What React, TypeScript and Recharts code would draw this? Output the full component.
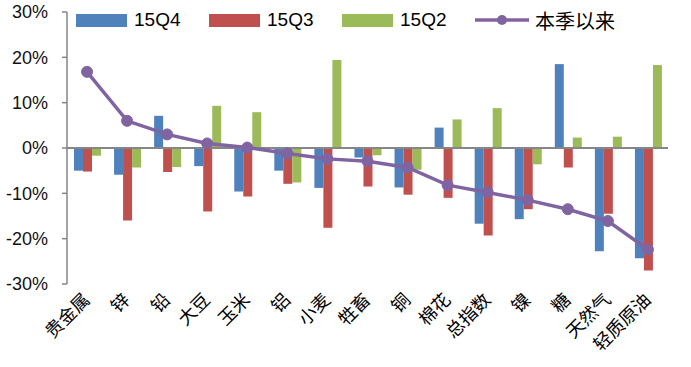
import { ComposedChart, Bar, Line, XAxis, YAxis, ReferenceLine } from 'recharts';

const categories = ['贵金属', '锌', '铅', '大豆', '玉米', '铝', '小麦', '牲畜', '铜', '棉花', '总指数', '镍', '糖', '天然气', '轻质原油'];
const q4 = [-5.0, -5.9, 7.1, -4.0, -9.6, -5.0, -8.8, -2.1, -8.7, 4.5, -16.7, -15.7, 18.5, -22.8, -24.3];
const q3 = [-5.2, -16.0, -5.3, -14.0, -10.7, -7.9, -17.6, -8.5, -10.3, -11.0, -19.3, -13.5, -4.3, -14.5, -27.0];
const q2 = [-1.7, -4.3, -4.2, 9.3, 7.9, -7.6, 19.4, -1.6, -4.8, 6.3, 8.8, -3.6, 2.3, 2.5, 18.3];
const sinceQ = [16.8, 6.0, 3.0, 1.0, 0.1, -1.2, -2.4, -2.9, -4.3, -8.2, -9.8, -11.5, -13.5, -16.1, -22.4];
const yTicks = [-30, -20, -10, 0, 10, 20, 30];

const BLUE = '#4F81BD';
const RED = '#C0504D';
const GREEN = '#9BBB59';
const PURPLE = '#8064A2';

const data = categories.map((c, i) => ({
  cat: c,
  q4: q4[i],
  q3: q3[i],
  q2: q2[i],
  since: sinceQ[i],
}));

const barSeries = [
  { key: 'q4', name: '15Q4', color: BLUE },
  { key: 'q3', name: '15Q3', color: RED },
  { key: 'q2', name: '15Q2', color: GREEN },
];

const CatTick = (props: any) => {
  const { x, payload } = props;
  const ax = x + 4;
  const ay = 301;
  return (
    <text
      x={ax}
      y={ay}
      textAnchor="end"
      transform={`rotate(-45 ${ax} ${ay})`}
      fontSize={18}
      fontFamily='"Noto Sans CJK SC", sans-serif'
      fill="#000"
    >
      {payload.value}
    </text>
  );
};

function ChartLegend() {
  return (
    <div
      style={{
        position: 'absolute',
        left: 76,
        top: 6,
        display: 'flex',
        alignItems: 'center',
        height: 28,
        fontFamily: '"Liberation Sans", Arial, sans-serif',
        fontSize: 19,
        color: '#000',
      }}
    >
      {barSeries.map((s) => (
        <div key={s.key} style={{ width: 133, display: 'flex', alignItems: 'center' }}>
          <span style={{ width: 51, height: 13, background: s.color, display: 'inline-block' }} />
          <span style={{ marginLeft: 7 }}>{s.name}</span>
        </div>
      ))}
      <div style={{ display: 'flex', alignItems: 'center' }}>
        <svg width={54} height={14}>
          <line x1={0} y1={7} x2={54} y2={7} stroke={PURPLE} strokeWidth={3.5} />
          <circle cx={27} cy={7} r={5} fill={PURPLE} />
        </svg>
        <span style={{ marginLeft: 6, fontFamily: '"Noto Sans CJK SC", sans-serif', fontSize: 20 }}>本季以来</span>
      </div>
    </div>
  );
}

export default function App() {
  return (
    <div style={{ position: 'relative', width: 691, height: 367, background: '#fff' }}>
      <style>{`body{margin:0}`}</style>
      <ComposedChart
        width={691}
        height={367}
        data={data}
        margin={{ top: 12, right: 23, bottom: 0, left: 0 }}
        barCategoryGap={7}
        barGap={0}
      >
        <XAxis
          dataKey="cat"
          height={83}
          axisLine={false}
          tickLine={false}
          interval={0}
          tick={<CatTick />}
        />
        <YAxis
          width={67}
          domain={[-30, 30]}
          ticks={yTicks}
          tickFormatter={(v: number) => `${v}%`}
          axisLine={{ stroke: '#868686', strokeWidth: 1.5 }}
          tickLine={{ stroke: '#868686', strokeWidth: 1.5 }}
          tickSize={5}
          tickMargin={14}
          tick={{ fontSize: 18, fill: '#111', fontFamily: '"Liberation Sans", Arial, sans-serif' }}
        />
        {barSeries.map((s) => (
          <Bar key={s.key} dataKey={s.key} name={s.name} fill={s.color} isAnimationActive={false} />
        ))}
        <ReferenceLine y={0} stroke="#868686" strokeWidth={2} />
        <Line
          dataKey="since"
          name="本季以来"
          stroke={PURPLE}
          strokeWidth={3.5}
          dot={{ r: 5.5, fill: PURPLE, stroke: PURPLE, strokeWidth: 1 }}
          isAnimationActive={false}
        />
      </ComposedChart>
      <ChartLegend />
    </div>
  );
}
